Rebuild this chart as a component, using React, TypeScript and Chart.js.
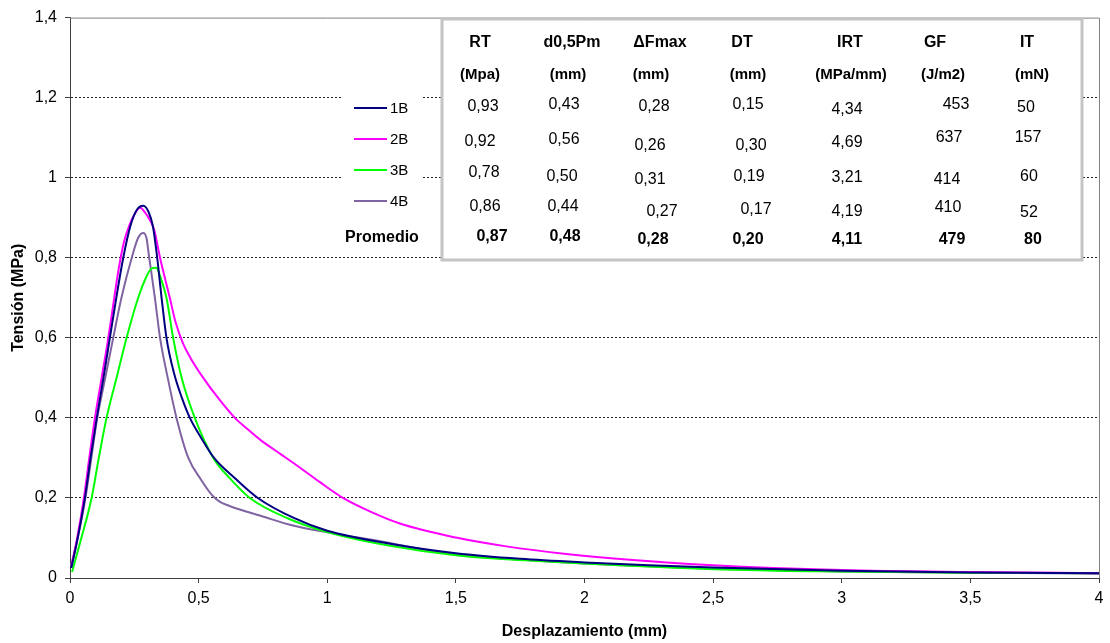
import React, { useEffect, useRef } from 'react';
import { Chart, registerables } from 'chart.js';

Chart.register(...registerables);

// Displacement (mm) / tension (MPa) readings for each specimen
const disp1B = [0.005, 0.03, 0.058, 0.08, 0.104, 0.13, 0.155, 0.18, 0.207, 0.235, 0.26, 0.285, 0.305, 0.322, 0.339, 0.356, 0.375, 0.405, 0.435, 0.466, 0.51, 0.56, 0.64, 0.73, 0.87, 1.0, 1.25, 1.5, 1.75, 2.0, 2.25, 2.5, 3.0, 3.5, 4.0];
const tens1B = [0.025, 0.1, 0.2, 0.3, 0.4, 0.5, 0.6, 0.7, 0.8, 0.88, 0.92, 0.93, 0.915, 0.88, 0.8, 0.7, 0.6, 0.51, 0.45, 0.4, 0.35, 0.3, 0.25, 0.2, 0.15, 0.118, 0.085, 0.062, 0.048, 0.039, 0.032, 0.026, 0.018, 0.014, 0.012];

const disp2B = [0.005, 0.028, 0.054, 0.075, 0.097, 0.123, 0.149, 0.172, 0.19, 0.21, 0.23, 0.252, 0.272, 0.295, 0.327, 0.35, 0.388, 0.41, 0.44, 0.47, 0.518, 0.578, 0.641, 0.69, 0.74, 0.82, 0.893, 0.97, 1.061, 1.17, 1.282, 1.5, 1.696, 1.929, 2.188, 2.5, 3.0, 3.5, 4.0];
const tens2B = [0.03, 0.1, 0.2, 0.3, 0.4, 0.5, 0.6, 0.7, 0.775, 0.84, 0.88, 0.91, 0.925, 0.91, 0.87, 0.8, 0.7, 0.64, 0.585, 0.548, 0.5, 0.448, 0.4, 0.372, 0.345, 0.309, 0.276, 0.24, 0.2, 0.165, 0.136, 0.101, 0.079, 0.06, 0.045, 0.032, 0.02, 0.015, 0.012];

const disp3B = [0.008, 0.04, 0.084, 0.112, 0.142, 0.181, 0.22, 0.265, 0.295, 0.315, 0.335, 0.355, 0.375, 0.401, 0.434, 0.485, 0.557, 0.62, 0.699, 0.85, 1.0, 1.25, 1.5, 1.75, 2.0, 2.5, 3.0, 3.5, 4.0];
const tens3B = [0.015, 0.09, 0.2, 0.3, 0.4, 0.5, 0.6, 0.7, 0.75, 0.772, 0.775, 0.745, 0.7, 0.6, 0.5, 0.4, 0.3, 0.25, 0.2, 0.148, 0.115, 0.08, 0.057, 0.045, 0.036, 0.022, 0.016, 0.013, 0.012];

const disp4B = [0.005, 0.03, 0.06, 0.083, 0.106, 0.137, 0.168, 0.2, 0.24, 0.265, 0.285, 0.297, 0.308, 0.33, 0.35, 0.38, 0.414, 0.46, 0.51, 0.555, 0.583, 0.62, 0.66, 0.738, 0.867, 1.0, 1.19, 1.5, 1.75, 2.0, 2.5, 3.0, 3.5, 4.0];
const tens4B = [0.03, 0.1, 0.2, 0.3, 0.4, 0.5, 0.6, 0.7, 0.8, 0.85, 0.862, 0.85, 0.8, 0.7, 0.6, 0.5, 0.4, 0.3, 0.245, 0.205, 0.19, 0.18, 0.171, 0.156, 0.131, 0.114, 0.094, 0.058, 0.046, 0.036, 0.023, 0.016, 0.013, 0.011];

const seriesLabels = ['1B', '2B', '3B', '4B'];

// Axis ranges
const xMin = 0;
const xMax = 4;
const xStep = 0.5;
const yMin = 0;
const yMax = 1.4;
const yStep = 0.2;

// Summary table
const tableHeads = ['RT', 'd0,5Pm', '\u0394Fmax', 'DT', 'IRT', 'GF', 'IT'];
const tableUnits = ['(Mpa)', '(mm)', '(mm)', '(mm)', '(MPa/mm)', '(J/m2)', '(mN)'];
const row1B = ['0,93', '0,43', '0,28', '0,15', '4,34', '453', '50'];
const row2B = ['0,92', '0,56', '0,26', '0,30', '4,69', '637', '157'];
const row3B = ['0,78', '0,50', '0,31', '0,19', '3,21', '414', '60'];
const row4B = ['0,86', '0,44', '0,27', '0,17', '4,19', '410', '52'];
const rowMean = ['0,87', '0,48', '0,28', '0,20', '4,11', '479', '80'];
const meanLabel = 'Promedio';

// Drawing styles and text placement
const FONT = '"Liberation Sans", Arial, Helvetica, sans-serif';
const lineColors = ['#000080', '#FF00FF', '#00FF00', '#8064A2'];
const headX = [480, 572, 660, 742, 850, 935, 1027];
const headY = 43;
const unitX = [480, 568, 651, 748, 851, 943, 1032];
const unitY = 75;
const cellX = [
  [483, 564, 654, 748, 847, 956, 1026],
  [480, 564, 650, 751, 847, 949, 1028],
  [484, 562, 650, 749, 847, 947, 1029],
  [485, 563, 662, 756, 847, 948, 1029],
  [492, 565, 653, 748, 847, 952, 1033],
];
const cellY = [
  [107, 105, 107, 105, 110, 105, 108],
  [142, 140, 146, 146, 143, 138, 138],
  [173, 177, 180, 177, 178, 180, 177],
  [207, 207, 212, 210, 212, 208, 213],
  [237, 237, 240, 240, 240, 240, 240],
];
const legendLineY = [108, 139, 170, 201];

const fmt = (v: number) => String(Number(v.toFixed(2))).replace('.', ',');

const overlayPlugin = {
  id: 'frameLegendTable',
  afterDraw(chart: any) {
    const { ctx, chartArea } = chart;
    ctx.save();

    // plot frame on top and right
    ctx.strokeStyle = '#808080';
    ctx.lineWidth = 1;
    ctx.beginPath();
    ctx.moveTo(chartArea.left, chartArea.top + 0.5);
    ctx.lineTo(chartArea.right + 0.5, chartArea.top + 0.5);
    ctx.lineTo(chartArea.right + 0.5, chartArea.bottom);
    ctx.stroke();

    // legend block
    ctx.fillStyle = '#ffffff';
    ctx.fillRect(342, 88, 79, 160);
    chart.data.datasets.forEach((ds: any, i: number) => {
      const y = legendLineY[i];
      ctx.strokeStyle = ds.borderColor;
      ctx.lineWidth = 2;
      ctx.beginPath();
      ctx.moveTo(354, y);
      ctx.lineTo(387, y);
      ctx.stroke();
      ctx.fillStyle = '#000';
      ctx.font = `15px ${FONT}`;
      ctx.textAlign = 'left';
      ctx.textBaseline = 'middle';
      ctx.fillText(ds.label, 390, y + 1);
    });
    ctx.font = `bold 16px ${FONT}`;
    ctx.textAlign = 'center';
    ctx.fillText(meanLabel, 382, 238);

    // table block
    ctx.fillStyle = '#ffffff';
    ctx.fillRect(442, 19, 640, 241);
    ctx.strokeStyle = '#c4c4c4';
    ctx.lineWidth = 3;
    ctx.strokeRect(442, 19, 640, 241);

    ctx.fillStyle = '#000';
    ctx.textAlign = 'center';
    ctx.textBaseline = 'middle';
    ctx.font = `bold 16px ${FONT}`;
    tableHeads.forEach((t, i) => ctx.fillText(t, headX[i], headY));
    ctx.font = `bold 15px ${FONT}`;
    tableUnits.forEach((t, i) => ctx.fillText(t, unitX[i], unitY));
    const rows = [row1B, row2B, row3B, row4B, rowMean];
    rows.forEach((row, r) => {
      ctx.font = r === 4 ? `bold 16px ${FONT}` : `16px ${FONT}`;
      row.forEach((t, c) => ctx.fillText(t, cellX[r][c], cellY[r][c]));
    });

    ctx.restore();
  },
};

export default function App() {
  const canvasRef = useRef<HTMLCanvasElement | null>(null);

  useEffect(() => {
    const canvas = canvasRef.current;
    if (!canvas) return;
    const xs = [disp1B, disp2B, disp3B, disp4B];
    const ys = [tens1B, tens2B, tens3B, tens4B];
    const datasets = seriesLabels.map((label, i) => ({
      label,
      data: xs[i].map((x, j) => ({ x, y: ys[i][j] })),
      borderColor: lineColors[i],
      backgroundColor: lineColors[i],
      borderWidth: 2,
      pointRadius: 0,
      fill: false,
      cubicInterpolationMode: 'monotone' as const,
    }));

    const chart = new Chart(canvas, {
      type: 'line',
      data: { datasets },
      options: {
        responsive: false,
        animation: false,
        layout: { padding: { top: 14, right: 11, left: 0, bottom: 0 } },
        plugins: {
          legend: { display: false },
          tooltip: { enabled: false },
        },
        scales: {
          x: {
            type: 'linear',
            min: xMin,
            max: xMax,
            afterFit: (s: any) => { s.height = 65; },
            ticks: {
              stepSize: xStep,
              color: '#000',
              font: { family: FONT, size: 16 },
              padding: 6,
              maxRotation: 0,
              callback: (v: any) => fmt(Number(v)),
            },
            grid: { drawOnChartArea: false, drawTicks: true, tickLength: 5, tickColor: '#404040' },
            border: { color: '#404040', width: 1 },
            title: {
              display: true,
              text: 'Desplazamiento (mm)',
              color: '#000',
              font: { family: FONT, size: 16, weight: 'bold' },
              padding: { top: 4, bottom: 2 },
            },
          },
          y: {
            type: 'linear',
            min: yMin,
            max: yMax,
            afterFit: (s: any) => { s.width = 70; },
            ticks: {
              stepSize: yStep,
              color: '#000',
              font: { family: FONT, size: 16 },
              padding: 8,
              callback: (v: any) => fmt(Number(v)),
            },
            grid: {
              drawTicks: true,
              tickLength: 5,
              tickColor: '#404040',
              tickBorderDash: [],
              color: (c: any) => {
                const v = c.tick ? c.tick.value : 0;
                return v > 0.01 && v < yMax - 0.01 ? '#222222' : 'rgba(0,0,0,0)';
              },
            },
            border: { color: '#404040', width: 1, dash: [2, 2] },
            title: {
              display: true,
              text: 'Tensión (MPa)',
              color: '#000',
              font: { family: FONT, size: 16, weight: 'bold' },
              padding: { top: 9, bottom: 4 },
            },
          },
        },
      },
      plugins: [overlayPlugin],
    });
    return () => chart.destroy();
  }, []);

  return (
    <div style={{ position: 'absolute', left: 0, top: 0, width: 1110, height: 643, background: '#fff' }}>
      <canvas ref={canvasRef} width={1110} height={643} style={{ width: 1110, height: 643, display: 'block' }} />
    </div>
  );
}
